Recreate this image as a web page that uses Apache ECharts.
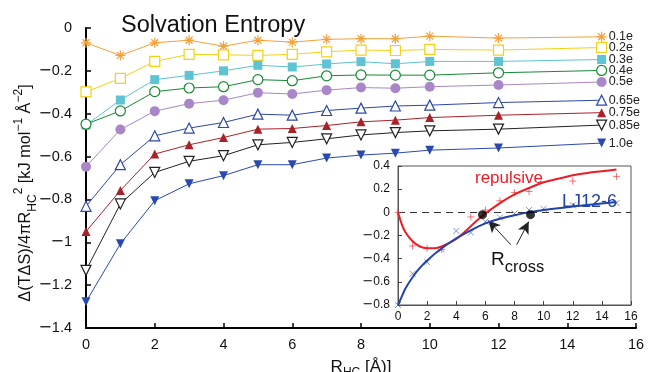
<!DOCTYPE html>
<html><head><meta charset="utf-8">
<script src="https://cdn.jsdelivr.net/npm/echarts@6/dist/echarts.min.js"></script>
<style>html,body{margin:0;padding:0;background:#fff}#c{width:649px;height:372px}</style>
</head><body><div id="c"></div>
<script>
// ---- main chart data ----
var xs = [0,1,2,3,4,5,6,7,8,9,10,12,15];
var names = ['0.1e','0.2e','0.3e','0.4e','0.5e','0.65e','0.75e','0.85e','1.0e'];
var s01  = [-0.069,-0.128,-0.069,-0.057,-0.085,-0.057,-0.066,-0.053,-0.050,-0.050,-0.038,-0.047,-0.041];
var s02  = [-0.298,-0.235,-0.156,-0.123,-0.125,-0.128,-0.123,-0.111,-0.103,-0.105,-0.100,-0.103,-0.091];
var s03  = [-0.453,-0.336,-0.241,-0.221,-0.200,-0.174,-0.182,-0.168,-0.157,-0.167,-0.156,-0.156,-0.147];
var s04  = [-0.449,-0.387,-0.297,-0.280,-0.274,-0.241,-0.246,-0.223,-0.219,-0.220,-0.220,-0.209,-0.198];
var s05  = [-0.647,-0.474,-0.388,-0.353,-0.337,-0.302,-0.308,-0.290,-0.278,-0.281,-0.274,-0.266,-0.252];
var s065 = [-0.832,-0.638,-0.503,-0.467,-0.441,-0.402,-0.407,-0.385,-0.374,-0.364,-0.360,-0.348,-0.337];
var s075 = [-0.950,-0.758,-0.588,-0.545,-0.511,-0.472,-0.469,-0.455,-0.438,-0.430,-0.418,-0.407,-0.395];
var s085 = [-1.131,-0.821,-0.674,-0.622,-0.596,-0.545,-0.534,-0.517,-0.499,-0.488,-0.480,-0.472,-0.453];
var s10  = [-1.278,-1.007,-0.806,-0.727,-0.689,-0.638,-0.638,-0.607,-0.593,-0.584,-0.570,-0.560,-0.537];
var xTicks = [0,2,4,6,8,10,12,14,16];
var yTicks = [0,-0.2,-0.4,-0.6,-0.8,-1,-1.2,-1.4];

// ---- inset data ----
var repX = [0,1,2,3,5,6,7,8,9,12,15];
var repY = [0,-0.29,-0.31,-0.32,-0.04,0.02,0.10,0.17,0.18,0.27,0.31];
var ljX  = [0,1,2,3,4,5,6,7,8,9,10,12,15];
var ljY  = [-0.80,-0.53,-0.43,-0.32,-0.16,-0.175,-0.08,-0.045,-0.01,0.02,0.03,0.06,0.08];
var repCurveX = [0,0.25,0.5,1,1.5,2,2.5,3,4,5,5.8,7,8,9,10,11,12,13,14,15];
var repCurveY = [0,-0.10,-0.17,-0.25,-0.295,-0.31,-0.31,-0.295,-0.23,-0.12,-0.03,0.08,0.155,0.21,0.26,0.29,0.32,0.34,0.355,0.37];
var ljCurveX = [0,0.25,0.5,1,1.5,2,3,4,5,6,7,8,9,10,12,15];
var ljCurveY = [-0.80,-0.73,-0.66,-0.56,-0.48,-0.415,-0.31,-0.225,-0.155,-0.095,-0.055,-0.025,0,0.02,0.05,0.09];
var crossX = [5.8,9.1];
var crossY = [-0.02,-0.02];
var arrowFrom = [[7.75,-0.28],[8.15,-0.28]];
var arrowTo   = [[6.2,-0.07],[8.98,-0.08]];
var insetXTicks = [0,2,4,6,8,10,12,14,16];
var insetYTicks = [0.4,0.2,0,-0.2,-0.4,-0.6,-0.8];

function zip(a,b){return a.map(function(v,i){return [v,b[i]];});}
function fmt(v){var r=Math.round(v*10)/10; var s=Math.abs(r).toString(); return r<0 ? '{m|\u2212}'+s : s;}

var colors = ['#F6A037','#F5D115','#5EC3D3','#168A34','#A886C8','#2C48A8','#A8222A','#222222','#2A49AE'];
var asterisk = 'path://M0,-10L0,10M-10,0L10,0M-7,-7L7,7M-7,7L7,-7';
var plus = 'path://M0,-10L0,10M-10,0L10,0';
var cross = 'path://M-7,-7L7,7M-7,7L7,-7';
var markers = [
  {symbol:asterisk, size:10, fill:true},
  {symbol:'rect', size:10, fill:false},
  {symbol:'rect', size:9, fill:true},
  {symbol:'circle', size:10, fill:false},
  {symbol:'circle', size:10, fill:true},
  {symbol:'triangle', size:10, fill:false},
  {symbol:'triangle', size:9, fill:true},
  {symbol:'triangle', size:10, fill:false, rot:180},
  {symbol:'triangle', size:9, fill:true, rot:180}
];
var seriesData = [s01,s02,s03,s04,s05,s065,s075,s085,s10];

var series = seriesData.map(function(d,i){
  var m = markers[i];
  return {
    type:'line', name:names[i], xAxisIndex:0, yAxisIndex:0,
    data: zip(xs,d), symbol:m.symbol, symbolSize:m.size, symbolRotate:m.rot||0,
    showAllSymbol:true, animation:false, z:3,
    lineStyle:{color:colors[i], width:1},
    itemStyle:{color: m.fill ? colors[i] : '#fff', borderColor:colors[i], borderWidth: m.fill ? (i===0?1.2:0) : 1.2},
    endLabel:{show:true, formatter:names[i], color:'#222', fontSize:12.5, fontFamily:'Liberation Sans', distance:7}
  };
});

series.push({type:'line', xAxisIndex:1, yAxisIndex:1, data:zip(repCurveX,repCurveY), smooth:0.4, showSymbol:false,
  lineStyle:{color:'#EE1C25', width:2}, animation:false, z:8,
  markLine:{silent:true, symbol:'none', label:{show:false}, lineStyle:{color:'#333', type:[7,5], width:1},
    data:[{yAxis:0}], animation:false}});
series.push({type:'line', xAxisIndex:1, yAxisIndex:1, data:zip(ljCurveX,ljCurveY), smooth:0.4, showSymbol:false,
  lineStyle:{color:'#2443A8', width:2}, animation:false, z:8});
series.push({type:'scatter', xAxisIndex:1, yAxisIndex:1, data:zip(repX,repY), symbol:plus, symbolSize:7,
  itemStyle:{color:'#F0282E', borderColor:'#F0282E', borderWidth:0.8}, animation:false, z:7});
series.push({type:'scatter', xAxisIndex:1, yAxisIndex:1, data:zip(ljX,ljY), symbol:cross, symbolSize:6,
  itemStyle:{color:'#3A55B5', borderColor:'#3A55B5', borderWidth:0.8}, animation:false, z:7});
series.push({type:'scatter', xAxisIndex:1, yAxisIndex:1, data:zip(crossX,crossY), symbol:'circle', symbolSize:9,
  itemStyle:{color:'#000'}, animation:false, z:9,
  markLine:{silent:true, symbol:['none','arrow'], symbolSize:[9,12], label:{show:false}, animation:false,
    lineStyle:{color:'#222', width:1, type:'solid'},
    data: arrowFrom.map(function(f,i){return [{coord:f},{coord:arrowTo[i]}];})}});

var lab = {fontFamily:'Liberation Sans', color:'#111'};
var mainRich = {m:{fontFamily:'DejaVu Sans', fontSize:16, color:'#111'}};
var insetRich = {m:{fontFamily:'DejaVu Sans', fontSize:13, color:'#111'}};

var option = {
  backgroundColor:'#fff',
  animation:false,
  title:{text:'Solvation Entropy', left:116, top:9, textStyle:{fontFamily:'Liberation Sans', fontSize:23.5, fontWeight:'normal', color:'#111'}},
  grid:[
    {left:86, right:13, top:28, bottom:44, containLabel:false, outerBoundsMode:'none'},
    {left:398, right:18, top:166, bottom:67, containLabel:false, outerBoundsMode:'none', show:true, backgroundColor:'#fff', borderColor:'#555', borderWidth:1, z:5}
  ],
  xAxis:[
    {type:'value', gridIndex:0, min:xTicks[0], max:xTicks[xTicks.length-1], interval:2,
     axisLine:{show:true, onZero:false, lineStyle:{color:'#000', width:2}},
     axisTick:{show:true, inside:true, length:5, lineStyle:{color:'#000', width:1.5}},
     axisLabel:Object.assign({fontSize:14.5, margin:9}, lab), splitLine:{show:false},
     name:'{n|R}{s|HC}{n| [Å)]}', nameLocation:'middle', nameGap:27,
     nameTextStyle:{rich:{n:{fontSize:17, fontFamily:'Liberation Sans', color:'#111', lineHeight:24, verticalAlign:'middle'},
                         s:{fontSize:12, fontFamily:'Liberation Sans', color:'#111', lineHeight:12, verticalAlign:'bottom'}}}},
    {type:'value', gridIndex:1, min:insetXTicks[0], max:insetXTicks[insetXTicks.length-1], interval:2, z:6,
     axisLine:{show:true, onZero:false, lineStyle:{color:'#555', width:1}},
     axisTick:{show:true, inside:true, length:4, lineStyle:{color:'#444'}},
     axisLabel:Object.assign({fontSize:12, margin:6}, lab), splitLine:{show:false}}
  ],
  yAxis:[
    {type:'value', gridIndex:0, min:yTicks[yTicks.length-1], max:yTicks[0], interval:0.2,
     axisLine:{show:true, onZero:false, lineStyle:{color:'#000', width:2}},
     axisTick:{show:true, inside:true, length:5, lineStyle:{color:'#000', width:1.5}},
     axisLabel:Object.assign({fontSize:14.5, margin:14, formatter:fmt, rich:mainRich}, lab), splitLine:{show:false}},
    {type:'value', gridIndex:1, min:insetYTicks[insetYTicks.length-1], max:insetYTicks[0], interval:0.2, z:6,
     axisLine:{show:true, onZero:false, lineStyle:{color:'#555', width:1}},
     axisTick:{show:true, inside:true, length:4, lineStyle:{color:'#444'}},
     axisLabel:Object.assign({fontSize:12, margin:8, formatter:fmt, rich:insetRich}, lab), splitLine:{show:false}}
  ],
  graphic:[
    {type:'text', x:26, y:193, rotation:Math.PI/2, z:10, style:{
      text:'{n|Δ(TΔS)/4πR}{s|HC}{p|2}{n| [kJ mol}{p|−1}{n| Å}{p|−2}{n|]}', align:'center', verticalAlign:'middle',
      rich:{n:{fontSize:16.3, fontFamily:'Liberation Sans', fill:'#111', lineHeight:26, verticalAlign:'middle'},
            s:{fontSize:12, fontFamily:'Liberation Sans', fill:'#111', lineHeight:10, verticalAlign:'bottom'},
            p:{fontSize:12, fontFamily:'Liberation Sans', fill:'#111', lineHeight:10, verticalAlign:'top'}}}},
    {type:'text', left:475, top:170, z:10, style:{text:'repulsive', fill:'#EE1C25', font:'17px "Liberation Sans"'}},
    {type:'text', left:562, top:193, z:10, style:{text:'LJ12-6', fill:'#2443A8', font:'18px "Liberation Sans"'}},
    {type:'text', left:491, top:250, z:10, style:{text:'{r|R}{c|cross}', rich:{
        r:{fontSize:19, fontFamily:'Liberation Sans', fill:'#111', lineHeight:26, verticalAlign:'top'},
        c:{fontSize:16.5, fontFamily:'Liberation Sans', fill:'#111', lineHeight:26, verticalAlign:'bottom'}}}}
  ],
  series:series
};
var chart = echarts.init(document.getElementById('c'), null, {renderer:'canvas'});
chart.setOption(option);
</script></body></html>
